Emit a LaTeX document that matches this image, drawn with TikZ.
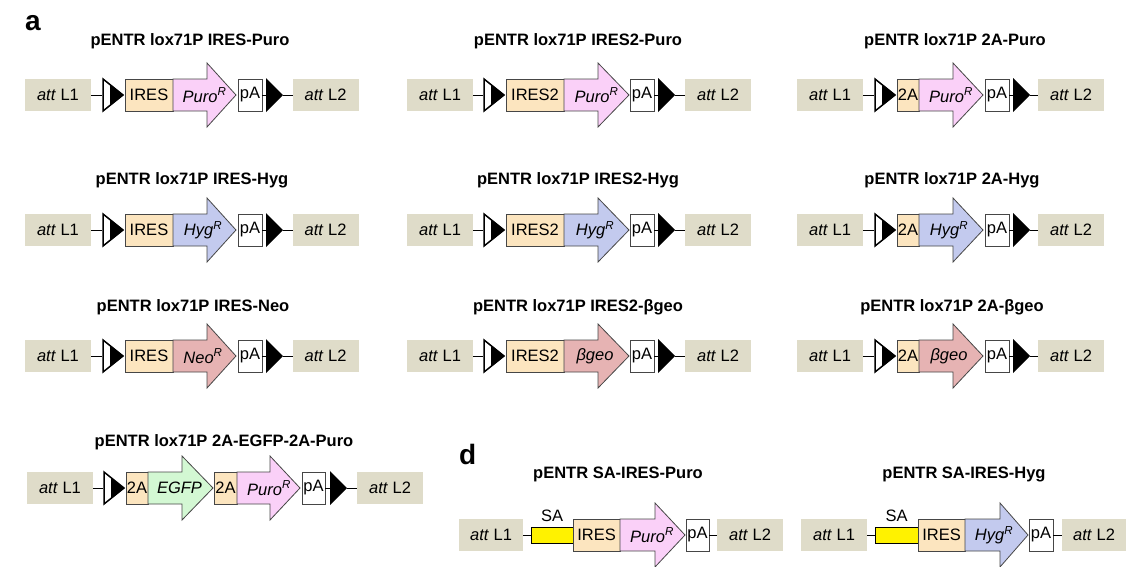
\documentclass[tikz,border=0pt]{standalone}
\usepackage{fontspec}
\setmainfont{Liberation Sans}
\definecolor{attc}{RGB}{223,220,201}
\definecolor{iresc}{RGB}{252,229,191}
\definecolor{puroc}{RGB}{250,208,248}
\definecolor{hygc}{RGB}{195,202,238}
\definecolor{neoc}{RGB}{230,179,179}
\definecolor{egfpc}{RGB}{211,248,211}
\definecolor{linec}{RGB}{70,70,70}
\begin{document}
\begin{tikzpicture}[x=1pt,y=-1pt,font=\fontsize{16.5}{18}\selectfont,
  att/.style={fill=attc,minimum width=66,minimum height=32,inner sep=0,outer sep=0},
  box/.style={draw=linec,line width=0.8pt,minimum height=32,inner sep=0,outer sep=0},
  ires/.style={box,fill=iresc},
  pa/.style={box,fill=white,minimum width=24},
  sa/.style={draw=black,line width=0.8pt,fill=yellow,minimum height=16,inner sep=0,outer sep=0},
  gene/.style={draw=linec,line width=0.8pt,line join=miter},
  link/.style={draw=black,line width=0.8pt},
  title/.style={font=\fontsize{16.5}{18}\selectfont\bfseries},
  panel/.style={font=\fontsize{28}{30}\selectfont\bfseries,inner sep=0},
  loxw/.pic={\draw[line width=1.5pt,fill=white,line join=miter] (1,-16) -- (21,0) -- (1,16) -- cycle;
    \fill (8,-10.7) -- (21,0) -- (8,10.7) -- cycle;
    \coordinate (-w) at (0,0);},
  loxb/.pic={\fill (0,-17) -- (17,0) -- (0,17) -- cycle;
    \coordinate (-w) at (0,0); \coordinate (-e) at (17,0);}]
\useasboundingbox (0,0) rectangle (1126,566);

\node[panel,anchor=base west] (pa) at (25,30) {a};
\node[panel,anchor=base west] (pd) at (459,464) {d};

% row 1
\node[title] (t11) at (190,41) {pENTR lox71P IRES-Puro};
\node[att] (l11) at (58,95) {\textit{att} L1};
\pic (x11) at (102,95) {loxw};
\node[ires,minimum width=48] (i11) at (149,95) {IRES};
\draw[gene,fill=puroc] (173,79) -| (207,63) -- (236,95) -- (207,127) |- (173,111) -- cycle;
\node (g11) at (204.5,95) {\textit{Puro}\textsuperscript{\textit{R}}};
\node[pa] (p11) at (250,95) {pA};
\pic (y11) at (266,95) {loxb};
\node[att] (r11) at (325.5,95) {\textit{att} L2};
\draw[link] (l11) -- (x11-w) (p11) -- (y11-w) (y11-e) -- (r11);

\node[title] (t12) at (578,41) {pENTR lox71P IRES2-Puro};
\node[att] (l12) at (440,95) {\textit{att} L1};
\pic (x12) at (483,95) {loxw};
\node[ires,minimum width=58] (i12) at (535,95) {IRES2};
\draw[gene,fill=puroc] (564,79) -| (598,63) -- (629,95) -- (598,127) |- (564,111) -- cycle;
\node (g12) at (596.5,95) {\textit{Puro}\textsuperscript{\textit{R}}};
\node[pa] (p12) at (642,95) {pA};
\pic (y12) at (658,95) {loxb};
\node[att] (r12) at (718,95) {\textit{att} L2};
\draw[link] (l12) -- (x12-w) (p12) -- (y12-w) (y12-e) -- (r12);

\node[title] (t13) at (955,41) {pENTR lox71P 2A-Puro};
\node[att] (l13) at (830,95) {\textit{att} L1};
\pic (x13) at (874,95) {loxw};
\node[ires,minimum width=22] (i13) at (908,95) {2A};
\draw[gene,fill=puroc] (919,79) -| (953,63) -- (983,95) -- (953,127) |- (919,111) -- cycle;
\node (g13) at (951,95) {\textit{Puro}\textsuperscript{\textit{R}}};
\node[pa] (p13) at (997,95) {pA};
\pic (y13) at (1013,95) {loxb};
\node[att] (r13) at (1071,95) {\textit{att} L2};
\draw[link] (l13) -- (x13-w) (p13) -- (y13-w) (y13-e) -- (r13);

% row 2
\node[title] (t21) at (192,180) {pENTR lox71P IRES-Hyg};
\node[att] (l21) at (58,230) {\textit{att} L1};
\pic (x21) at (102,230) {loxw};
\node[ires,minimum width=48] (i21) at (149,230) {IRES};
\draw[gene,fill=hygc] (173,214) -| (207,198) -- (236,230) -- (207,262) |- (173,246) -- cycle;
\node (g21) at (203,230) {\textit{Hyg}\textsuperscript{\textit{R}}};
\node[pa] (p21) at (250,230) {pA};
\pic (y21) at (266,230) {loxb};
\node[att] (r21) at (325.5,230) {\textit{att} L2};
\draw[link] (l21) -- (x21-w) (p21) -- (y21-w) (y21-e) -- (r21);

\node[title] (t22) at (578,180) {pENTR lox71P IRES2-Hyg};
\node[att] (l22) at (440,230) {\textit{att} L1};
\pic (x22) at (483,230) {loxw};
\node[ires,minimum width=58] (i22) at (535,230) {IRES2};
\draw[gene,fill=hygc] (564,214) -| (598,198) -- (629,230) -- (598,262) |- (564,246) -- cycle;
\node (g22) at (595,230) {\textit{Hyg}\textsuperscript{\textit{R}}};
\node[pa] (p22) at (642,230) {pA};
\pic (y22) at (658,230) {loxb};
\node[att] (r22) at (718,230) {\textit{att} L2};
\draw[link] (l22) -- (x22-w) (p22) -- (y22-w) (y22-e) -- (r22);

\node[title] (t23) at (952,180) {pENTR lox71P 2A-Hyg};
\node[att] (l23) at (830,230) {\textit{att} L1};
\pic (x23) at (874,230) {loxw};
\node[ires,minimum width=22] (i23) at (908,230) {2A};
\draw[gene,fill=hygc] (919,214) -| (953,198) -- (983,230) -- (953,262) |- (919,246) -- cycle;
\node (g23) at (949,230) {\textit{Hyg}\textsuperscript{\textit{R}}};
\node[pa] (p23) at (997,230) {pA};
\pic (y23) at (1013,230) {loxb};
\node[att] (r23) at (1071,230) {\textit{att} L2};
\draw[link] (l23) -- (x23-w) (p23) -- (y23-w) (y23-e) -- (r23);

% row 3
\node[title] (t31) at (193,307) {pENTR lox71P IRES-Neo};
\node[att] (l31) at (58,356) {\textit{att} L1};
\pic (x31) at (102,356) {loxw};
\node[ires,minimum width=48] (i31) at (149,356) {IRES};
\draw[gene,fill=neoc] (173,340) -| (207,324) -- (236,356) -- (207,388) |- (173,372) -- cycle;
\node (g31) at (203,356) {\textit{Neo}\textsuperscript{\textit{R}}};
\node[pa] (p31) at (250,356) {pA};
\pic (y31) at (266,356) {loxb};
\node[att] (r31) at (325.5,356) {\textit{att} L2};
\draw[link] (l31) -- (x31-w) (p31) -- (y31-w) (y31-e) -- (r31);

\node[title] (t32) at (578,307) {pENTR lox71P IRES2-βgeo};
\node[att] (l32) at (440,356) {\textit{att} L1};
\pic (x32) at (483,356) {loxw};
\node[ires,minimum width=58] (i32) at (535,356) {IRES2};
\draw[gene,fill=neoc] (564,340) -| (598,324) -- (629,356) -- (598,388) |- (564,372) -- cycle;
\node (g32) at (595,356) {\textit{βgeo}};
\node[pa] (p32) at (642,356) {pA};
\pic (y32) at (658,356) {loxb};
\node[att] (r32) at (718,356) {\textit{att} L2};
\draw[link] (l32) -- (x32-w) (p32) -- (y32-w) (y32-e) -- (r32);

\node[title] (t33) at (952,307) {pENTR lox71P 2A-βgeo};
\node[att] (l33) at (830,356) {\textit{att} L1};
\pic (x33) at (874,356) {loxw};
\node[ires,minimum width=22] (i33) at (908,356) {2A};
\draw[gene,fill=neoc] (919,340) -| (953,324) -- (983,356) -- (953,388) |- (919,372) -- cycle;
\node (g33) at (949,356) {\textit{βgeo}};
\node[pa] (p33) at (997,356) {pA};
\pic (y33) at (1013,356) {loxb};
\node[att] (r33) at (1071,356) {\textit{att} L2};
\draw[link] (l33) -- (x33-w) (p33) -- (y33-w) (y33-e) -- (r33);

% row 4
\node[title] (t41) at (224,442) {pENTR lox71P 2A-EGFP-2A-Puro};
\node[att] (l41) at (60,488) {\textit{att} L1};
\pic (x41) at (103,488) {loxw};
\node[ires,minimum width=22] (i41) at (137,488) {2A};
\draw[gene,fill=egfpc] (148,472) -| (182,456) -- (213,488) -- (182,520) |- (148,504) -- cycle;
\node (g41) at (179.5,488) {\textit{EGFP}};
\node[ires,minimum width=23] (j41) at (225.5,488) {2A};
\draw[gene,fill=puroc] (237,472) -| (270,456) -- (300,488) -- (270,520) |- (237,504) -- cycle;
\node (h41) at (269,488) {\textit{Puro}\textsuperscript{\textit{R}}};
\node[pa,minimum width=23] (p41) at (313.5,488) {pA};
\pic (y41) at (330,488) {loxb};
\node[att] (r41) at (390,488) {\textit{att} L2};
\draw[link] (l41) -- (x41-w) (p41) -- (y41-w) (y41-e) -- (r41);

% panel d
\node[title] (t51) at (618,474) {pENTR SA-IRES-Puro};
\node[att,minimum width=64] (l51) at (491,535) {\textit{att} L1};
\node[sa,minimum width=42] (s51) at (552,535) {};
\node (n51) at (552,516) {SA};
\node[ires,minimum width=47] (i51) at (596.5,535) {IRES};
\draw[gene,fill=puroc] (620,519) -| (655,503) -- (685,535) -- (655,567) |- (620,551) -- cycle;
\node (g51) at (652,535) {\textit{Puro}\textsuperscript{\textit{R}}};
\node[pa,minimum width=23] (p51) at (697.5,535) {pA};
\node[att,minimum width=66] (r51) at (750,535) {\textit{att} L2};
\draw[link] (l51) -- (s51) (p51) -- (r51);

\node[title] (t52) at (964,474) {pENTR SA-IRES-Hyg};
\node[att,minimum width=66] (l52) at (834,535) {\textit{att} L1};
\node[sa,minimum width=43] (s52) at (896.5,535) {};
\node (n52) at (896.5,516) {SA};
\node[ires,minimum width=47] (i52) at (941.5,535) {IRES};
\draw[gene,fill=hygc] (965,519) -| (1000,503) -- (1028,535) -- (1000,567) |- (965,551) -- cycle;
\node (g52) at (994,535) {\textit{Hyg}\textsuperscript{\textit{R}}};
\node[pa] (p52) at (1041,535) {pA};
\node[att,minimum width=64] (r52) at (1094,535) {\textit{att} L2};
\draw[link] (l52) -- (s52) (p52) -- (r52);
\end{tikzpicture}
\end{document}
